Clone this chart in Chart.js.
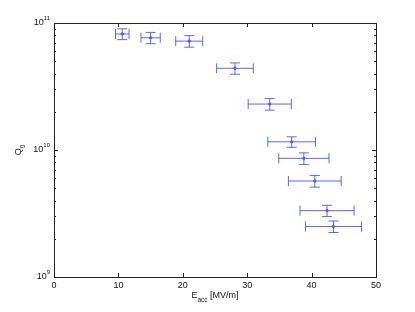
<!DOCTYPE html>
<html>
<head>
<meta charset="utf-8">
<script src="https://cdn.jsdelivr.net/npm/chart.js@4"></script>
<style>
  html, body { margin: 0; padding: 0; background: #fff; }
  #wrap { width: 415px; height: 312px; }
</style>
</head>
<body>
<div id="wrap"><canvas id="qeChart" width="415" height="312"></canvas></div>
<script>
// Q0 vs Eacc
const eacc    = [10.6, 15.0, 21.0, 28.1, 33.5, 36.9, 38.8, 40.5, 42.4, 43.4];
const eaccErr = [1.05, 1.5, 2.1, 2.85, 3.35, 3.7, 3.9, 4.1, 4.2, 4.35];
const q0      = [8.2e10, 7.65e10, 7.2e10, 4.4e10, 2.3e10, 1.16e10, 8.6e9, 5.7e9, 3.33e9, 2.5e9];
const q0Err   = [0.8e10, 0.78e10, 0.75e10, 0.45e10, 0.24e10, 0.11e10, 0.9e9, 0.6e9, 0.34e9, 0.26e9];
const xTicks  = [0, 10, 20, 30, 40, 50];
const yDecades = [9, 10, 11];

const fontFam = '"Liberation Sans", Arial, sans-serif';
const axisColor = '#222';
const barColor = 'rgba(70, 90, 255, 0.9)';

const points = eacc.map((x, i) => ({ x: x, y: q0[i] }));

// error bars, drawn through the scales
const errorBars = {
    id: 'errorBars',
    afterDatasetsDraw(chart) {
        const ctx = chart.ctx;
        const xs = chart.scales.x, ys = chart.scales.y;
        ctx.save();
        ctx.strokeStyle = barColor;
        ctx.lineWidth = 1;
        for (let i = 0; i < eacc.length; i++) {
            const cx = xs.getPixelForValue(eacc[i]);
            const cy = ys.getPixelForValue(q0[i]);
            const x0 = xs.getPixelForValue(eacc[i] - eaccErr[i]);
            const x1 = xs.getPixelForValue(eacc[i] + eaccErr[i]);
            const y0 = ys.getPixelForValue(q0[i] + q0Err[i]);
            const y1 = ys.getPixelForValue(q0[i] - q0Err[i]);
            ctx.beginPath();
            // horizontal bar + caps
            ctx.moveTo(x0, cy); ctx.lineTo(x1, cy);
            ctx.moveTo(x0, cy - 5); ctx.lineTo(x0, cy + 5);
            ctx.moveTo(x1, cy - 5); ctx.lineTo(x1, cy + 5);
            // vertical bar + caps
            ctx.moveTo(cx, y0); ctx.lineTo(cx, y1);
            ctx.moveTo(cx - 5, y0); ctx.lineTo(cx + 5, y0);
            ctx.moveTo(cx - 5, y1); ctx.lineTo(cx + 5, y1);
            ctx.stroke();
        }
        ctx.restore();
    }
};

// box, inward ticks and labels in the matlab look
const frame = {
    id: 'frame',
    afterDraw(chart) {
        const ctx = chart.ctx;
        const a = chart.chartArea;
        const xs = chart.scales.x, ys = chart.scales.y;
        ctx.save();
        ctx.strokeStyle = axisColor;
        ctx.lineWidth = 1;
        ctx.strokeRect(Math.round(a.left) + 0.5, Math.round(a.top) + 0.5,
                       Math.round(a.right - a.left), Math.round(a.bottom - a.top));

        ctx.beginPath();
        xTicks.forEach(t => {
            const px = Math.round(xs.getPixelForValue(t)) + 0.5;
            ctx.moveTo(px, a.bottom); ctx.lineTo(px, a.bottom - 4);
            ctx.moveTo(px, a.top); ctx.lineTo(px, a.top + 4);
        });
        for (let d = yDecades[0]; d < yDecades[yDecades.length - 1]; d++) {
            for (let m = 1; m <= 10; m++) {
                const py = Math.round(ys.getPixelForValue(m * Math.pow(10, d))) + 0.5;
                const len = (m === 1 || m === 10) ? 4 : 2;
                ctx.moveTo(a.left, py); ctx.lineTo(a.left + len, py);
                ctx.moveTo(a.right, py); ctx.lineTo(a.right - len, py);
            }
        }
        ctx.stroke();

        ctx.fillStyle = '#111';
        ctx.font = '9px ' + fontFam;
        ctx.textAlign = 'center';
        ctx.textBaseline = 'middle';
        xTicks.forEach(t => {
            ctx.fillText(String(t), xs.getPixelForValue(t), a.bottom + 9);
        });

        yDecades.forEach(d => {
            const py = ys.getPixelForValue(Math.pow(10, d));
            ctx.font = '6px ' + fontFam;
            ctx.textAlign = 'left';
            const supW = ctx.measureText(String(d)).width;
            const right = a.left - 4;
            ctx.fillText(String(d), right - supW, py - 5);
            ctx.font = '9px ' + fontFam;
            ctx.textAlign = 'right';
            ctx.fillText('10', right - supW, py);
        });

        // x title: E_acc [MV/m]
        ctx.textAlign = 'left';
        ctx.font = '9px ' + fontFam;
        const cx = (a.left + a.right) / 2;
        const wE = ctx.measureText('E').width;
        const wU = ctx.measureText(' [MV/m]').width;
        ctx.font = '6.5px ' + fontFam;
        const wS = ctx.measureText('acc').width;
        let sx = cx - (wE + wS + wU) / 2;
        ctx.font = '9px ' + fontFam;
        ctx.fillText('E', sx, a.bottom + 19);
        ctx.font = '6.5px ' + fontFam;
        ctx.fillText('acc', sx + wE, a.bottom + 23);
        ctx.font = '9px ' + fontFam;
        ctx.fillText(' [MV/m]', sx + wE + wS, a.bottom + 19);

        // y title: Q_0
        ctx.translate(19, (a.top + a.bottom) / 2);
        ctx.rotate(-Math.PI / 2);
        ctx.font = '9px ' + fontFam;
        const wQ = ctx.measureText('Q').width;
        ctx.font = '6.5px ' + fontFam;
        const w0 = ctx.measureText('0').width;
        ctx.font = '9px ' + fontFam;
        ctx.fillText('Q', -(wQ + w0) / 2, 0);
        ctx.font = '6.5px ' + fontFam;
        ctx.fillText('0', -(wQ + w0) / 2 + wQ, 4);
        ctx.restore();
    }
};

const ctx = document.getElementById('qeChart').getContext('2d');
new Chart(ctx, {
    type: 'scatter',
    data: {
        datasets: [{
            label: 'Q0',
            data: points,
            backgroundColor: barColor,
            borderColor: barColor,
            pointRadius: 1.2,
            pointHoverRadius: 1.2
        }]
    },
    options: {
        responsive: false,
        animation: false,
        layout: {
            padding: { left: 54, right: 39, top: 23, bottom: 35 }
        },
        plugins: {
            legend: { display: false },
            tooltip: { enabled: false }
        },
        scales: {
            x: {
                type: 'linear',
                display: false,
                min: 0,
                max: 50
            },
            y: {
                type: 'logarithmic',
                display: false,
                min: 1e9,
                max: 1e11
            }
        }
    },
    plugins: [errorBars, frame]
});
</script>
</body>
</html>
